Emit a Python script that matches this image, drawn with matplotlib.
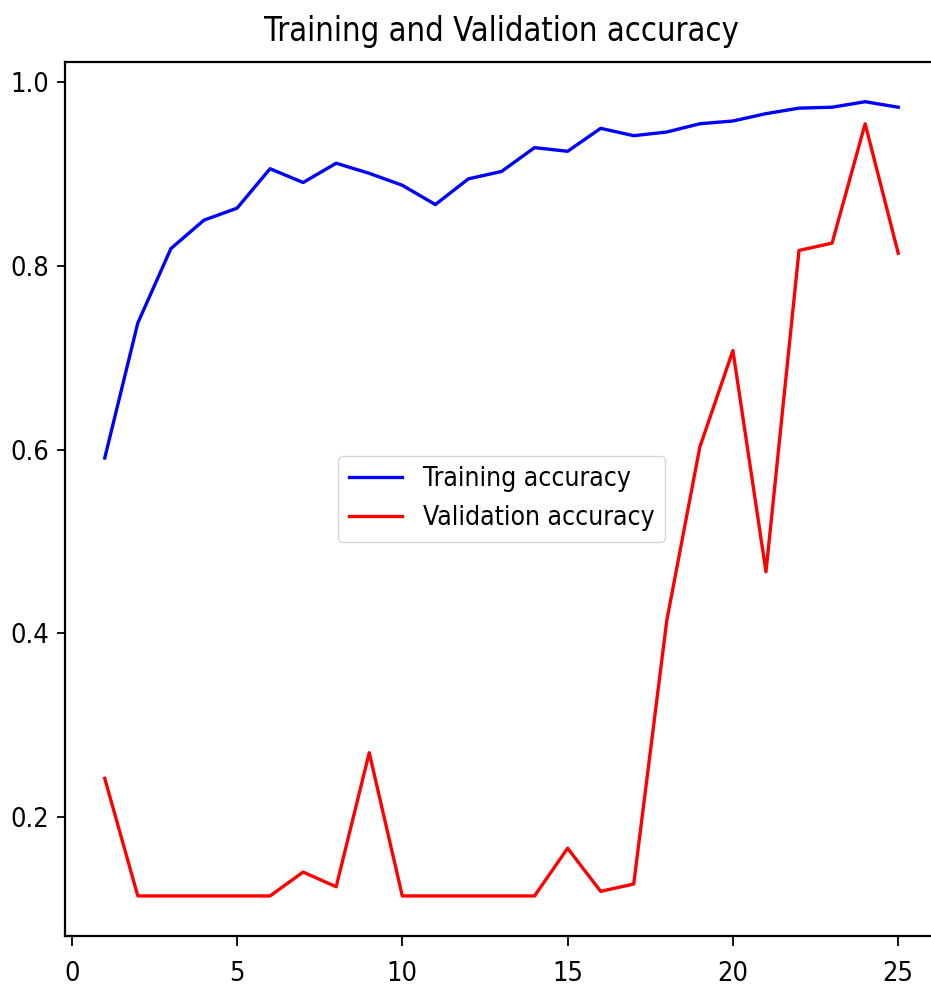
import matplotlib
matplotlib.use("Agg")
import matplotlib.pyplot as plt

# values (per epoch)
epochs = list(range(1, 26))
train_acc = [0.591, 0.738, 0.819, 0.850, 0.863, 0.906, 0.891, 0.912, 0.901, 0.888,
             0.867, 0.895, 0.903, 0.929, 0.925, 0.950, 0.942, 0.946, 0.955, 0.958,
             0.966, 0.972, 0.973, 0.979, 0.973]
val_acc = [0.242, 0.114, 0.114, 0.114, 0.114, 0.114, 0.140, 0.124, 0.270, 0.114,
           0.114, 0.114, 0.114, 0.114, 0.166, 0.119, 0.127, 0.414, 0.603, 0.708,
           0.467, 0.817, 0.825, 0.955, 0.814]

plt.rcParams["font.family"] = "DejaVu Sans"
plt.rcParams["font.stretch"] = "condensed"

fig = plt.figure(figsize=(9.31, 9.92), dpi=100)
ax = fig.add_axes([0.0699, 0.0568, 0.9375, 0.8807])

ax.plot(epochs, train_acc, "b", linewidth=2.4, label="Training accuracy")
ax.plot(epochs, val_acc, "r", linewidth=2.4, label="Validation accuracy")
ax.set_title("Training and Validation accuracy", fontsize=23.5, pad=15)
ax.legend(loc="center", fontsize=19)

ax.set_xticks([0, 5, 10, 15, 20, 25])
ax.set_yticks([0.2, 0.4, 0.6, 0.8, 1.0])
ax.tick_params(axis="x", labelsize=19.5, length=7, width=1.3, pad=11)
ax.tick_params(axis="y", labelsize=19.5, length=5.5, width=1.3, pad=6)
for s in ax.spines.values():
    s.set_linewidth(1.6)

fig.savefig("out.png", dpi=100)
